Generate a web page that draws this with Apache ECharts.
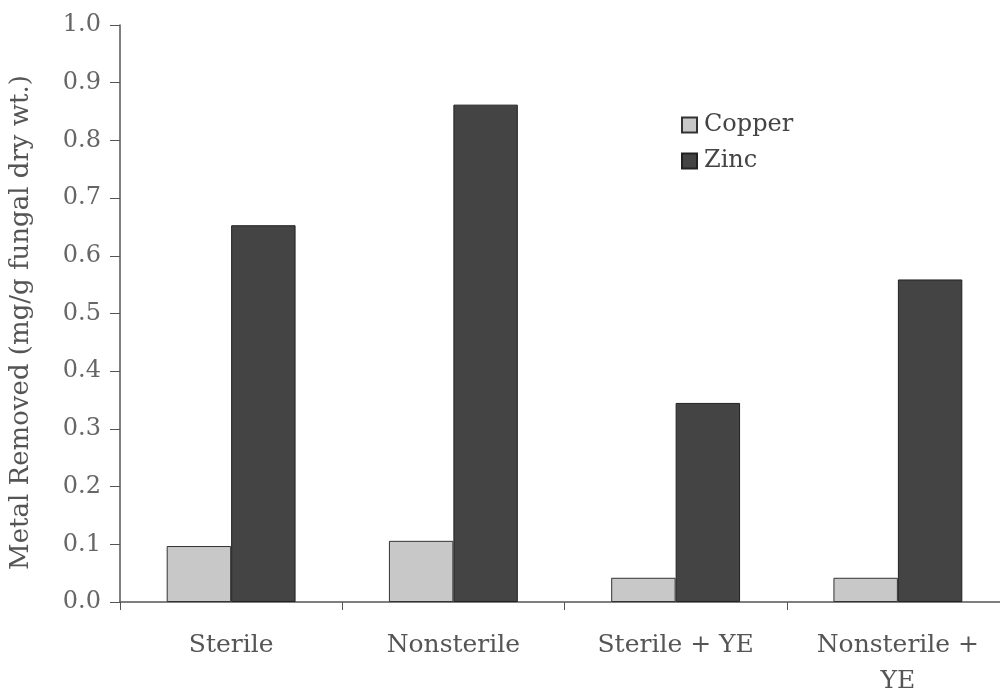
<!DOCTYPE html>
<html><head><meta charset="utf-8">
<script src="https://cdn.jsdelivr.net/npm/echarts@6/dist/echarts.min.js"></script>
<style>html,body{margin:0;padding:0;background:#fff}#c{width:1000px;height:694px}</style>
</head><body><div id="c"></div>
<script>
const categories = ['Sterile', 'Nonsterile', 'Sterile + YE', 'Nonsterile +\nYE'];
const copper = [0.097, 0.106, 0.042, 0.042];
const zinc = [0.653, 0.862, 0.345, 0.559];
const yTicks = [0, 0.1, 0.2, 0.3, 0.4, 0.5, 0.6, 0.7, 0.8, 0.9, 1.0];

const font = 'DejaVu Serif';
const chart = echarts.init(document.getElementById('c'));
chart.setOption({
  animation: false,
  backgroundColor: '#fff',
  grid: { left: 120, top: 25, width: 889, height: 577, containLabel: false, outerBoundsMode: 'none' },
  legend: {
    orient: 'vertical', left: 676, top: 108, itemWidth: 15, itemHeight: 15, itemGap: 12,
    icon: 'rect',
    textStyle: { fontFamily: font, fontSize: 24, color: '#444', padding: [0, 0, 0, 2] },
    data: ['Copper', 'Zinc']
  },
  xAxis: {
    type: 'category', data: categories,
    axisLine: { lineStyle: { color: '#555', width: 1.5 } },
    axisTick: { show: true, length: 8, lineStyle: { color: '#555' } },
    axisLabel: { fontFamily: font, fontSize: 25, color: '#555', margin: 25, lineHeight: 36 }
  },
  yAxis: {
    type: 'value', min: 0, max: 1.0, interval: 0.1,
    name: 'Metal Removed (mg/g fungal dry wt.)', nameLocation: 'middle', nameGap: 86,
    nameTextStyle: { fontFamily: font, fontSize: 26, color: '#555', padding: [0, 18, 0, 0] },
    axisLine: { show: true, lineStyle: { color: '#555', width: 1.5 } },
    axisTick: { show: true, length: 10, lineStyle: { color: '#555' } },
    splitLine: { show: false },
    axisLabel: { fontFamily: font, fontSize: 24, color: '#666', margin: 19,
      formatter: v => { const t = yTicks.find(x => Math.abs(x - v) < 1e-9); return (t !== undefined ? t : v).toFixed(1); } }
  },
  series: [
    { name: 'Copper', type: 'bar', data: copper, barGap: '0%', barCategoryGap: '42%',
      itemStyle: { color: '#c8c8c8', borderColor: '#333', borderWidth: 1 } },
    { name: 'Zinc', type: 'bar', data: zinc,
      itemStyle: { color: '#444444', borderColor: '#222', borderWidth: 1 } }
  ]
});
</script></body></html>
